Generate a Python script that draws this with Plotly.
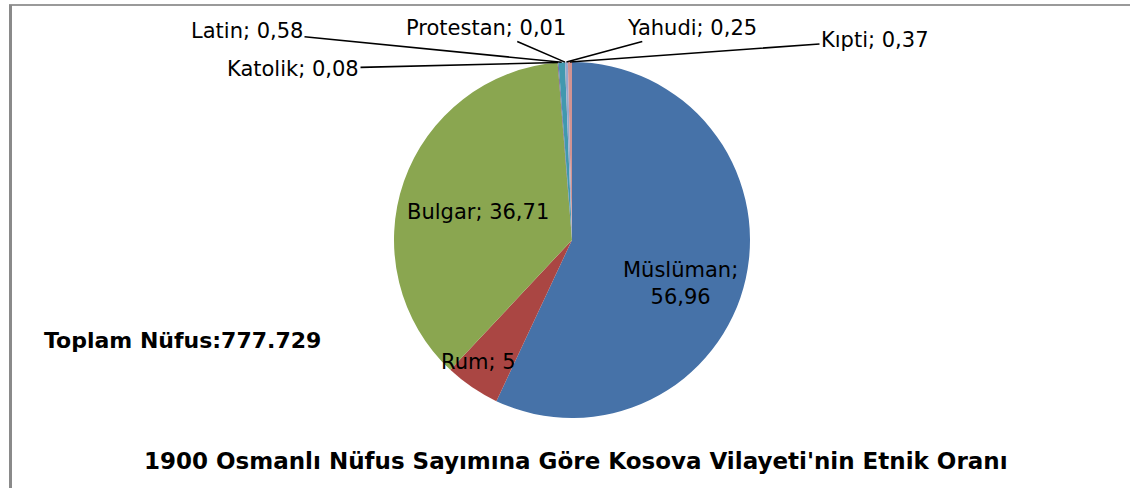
import math
import plotly.graph_objects as go

# ---- data ----
groups = ["Müslüman", "Rum", "Bulgar", "Katolik", "Latin", "Protestan", "Yahudi", "Kıpti"]
shares = [56.96, 5, 36.71, 0.08, 0.58, 0.01, 0.25, 0.37]
slice_colors = ["#4672A8", "#AA4643", "#8AA650", "#71588F", "#4198AF", "#DB843D", "#93A9CF", "#D19392"]
title_text = "1900 Osmanlı Nüfus Sayımına Göre Kosova Vilayeti'nin Etnik Oranı"
total_text = "Toplam Nüfus:777.729"

W, H = 1130, 488
CX, CY, R = 572, 240, 178  # pie centre / radius in pixels (layout)


def fmt(v):
    return f"{v:g}".replace(".", ",")


def px(x):
    return x / W


def py(y):
    return 1 - y / H


fig = go.Figure()
fig.add_trace(go.Pie(
    labels=groups,
    values=shares,
    sort=False,
    direction="clockwise",
    rotation=0,
    marker=dict(colors=slice_colors, line=dict(width=0)),
    textinfo="none",
    hoverinfo="label+value",
    showlegend=False,
    domain=dict(x=[px(CX - R), px(CX + R)], y=[py(CY + R), py(CY - R)]),
))

# label positions (layout, pixel centres)
inside_pos = {"Müslüman": (680, 283), "Bulgar": (478, 212), "Rum": (478, 362)}
outside_pos = {"Katolik": (293, 69), "Latin": (247, 31), "Protestan": (486, 28),
               "Yahudi": (692, 28), "Kıpti": (875, 40)}

font_lbl = dict(family="DejaVu Sans", size=21, color="#000000")
annotations = []
total = sum(shares)
cum = 0.0
for g, v in zip(groups, shares):
    mid = (cum + v / 2) / total
    cum += v
    theta = 2 * math.pi * mid
    tip_x = CX + R * math.sin(theta)
    tip_y = CY - R * math.cos(theta)
    if g in inside_pos:
        x, y = inside_pos[g]
        txt = f"{g};<br>{fmt(v)}" if g == "Müslüman" else f"{g}; {fmt(v)}"
        annotations.append(dict(x=px(x), y=py(y), xref="paper", yref="paper", text=txt,
                                showarrow=False, font=font_lbl, xanchor="center", yanchor="middle"))
    else:
        x, y = outside_pos[g]
        annotations.append(dict(x=px(tip_x), y=py(tip_y), xref="paper", yref="paper",
                                text=f"{g}; {fmt(v)}", showarrow=True, arrowhead=0,
                                arrowwidth=1.6, arrowcolor="#000000", standoff=0,
                                ax=x - tip_x, ay=y - tip_y, font=font_lbl))

annotations.append(dict(x=px(182), y=py(340), xref="paper", yref="paper", text=total_text,
                        xanchor="center", yanchor="middle", showarrow=False,
                        font=dict(family="DejaVu Sans", size=22, color="#000000", weight="bold")))
annotations.append(dict(x=px(576), y=py(461), xref="paper", yref="paper", text=title_text,
                        xanchor="center", yanchor="middle", showarrow=False,
                        font=dict(family="DejaVu Sans", size=23, color="#000000", weight="bold")))

shapes = [
    dict(type="line", xref="paper", yref="paper", x0=px(9), x1=1, y0=py(5), y1=py(5),
         line=dict(color="#9A9A9A", width=2)),
    dict(type="line", xref="paper", yref="paper", x0=px(10.5), x1=px(10.5), y0=py(5), y1=0,
         line=dict(color="#8A8A8A", width=3)),
]

fig.update_layout(
    width=W, height=H,
    margin=dict(l=0, r=0, t=0, b=0),
    paper_bgcolor="#FFFFFF",
    plot_bgcolor="#FFFFFF",
    annotations=annotations,
    shapes=shapes,
)

fig.write_html("out.html", config={"displayModeBar": False},
               post_script="document.body.style.margin='0';")
